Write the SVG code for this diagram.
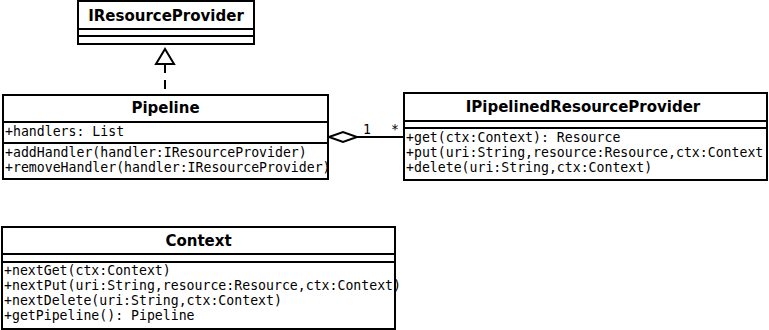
<svg xmlns="http://www.w3.org/2000/svg" width="769" height="330" viewBox="0 0 769 330">
  <style>
    .box { fill: #fff; stroke: #000; stroke-width: 2; }
    .div { stroke: #000; stroke-width: 2; }
    .title { font-family: "DejaVu Sans", sans-serif; font-weight: bold; font-size: 15px; text-anchor: middle; fill: #000; }
    .mem { font-family: "DejaVu Sans Mono", monospace; font-size: 13.2px; fill: #000; }
    .edge { fill: none; stroke: #000; stroke-width: 2; }
    .head { fill: #fff; stroke: #000; stroke-width: 2; }
    .lbl { font-family: "DejaVu Sans Mono", monospace; font-size: 13.2px; fill: #000; }
  </style>
  <rect width="769" height="330" fill="#fff"/>

  <g id="connectors">
    <!-- realization from Pipeline up to IResourceProvider -->
    <line class="edge" x1="165" y1="64" x2="165" y2="95" stroke-dasharray="9,7"/>
    <polygon class="head" points="165,49 156,64 174,64"/>
    <!-- aggregation from Pipeline to IPipelinedResourceProvider -->
    <line class="edge" x1="357" y1="137" x2="404" y2="137"/>
    <polygon class="head" points="329,137 343,132 357,137 343,142"/>
    <text class="lbl" x="363" y="134">1</text>
    <text class="lbl" x="391" y="134">*</text>
  </g>

  <g id="IResourceProvider">
    <rect class="box" x="78" y="1" width="176" height="43"/>
    <line class="div" x1="78" y1="29" x2="254" y2="29"/>
    <line class="div" x1="78" y1="36" x2="254" y2="36"/>
    <text class="title" x="166" y="21">IResourceProvider</text>
  </g>

  <g id="Pipeline">
    <rect class="box" x="3" y="95" width="325" height="84"/>
    <line class="div" x1="3" y1="122" x2="328" y2="122"/>
    <line class="div" x1="3" y1="143" x2="328" y2="143"/>
    <text class="title" x="165.5" y="113">Pipeline</text>
    <text class="mem" x="5" y="136">+handlers: List</text>
    <text class="mem" x="5" y="157">+addHandler(handler:IResourceProvider)</text>
    <text class="mem" x="5" y="172">+removeHandler(handler:IResourceProvider)</text>
  </g>

  <g id="IPipelinedResourceProvider">
    <rect class="box" x="404" y="93" width="363" height="87"/>
    <line class="div" x1="404" y1="121" x2="767" y2="121"/>
    <line class="div" x1="404" y1="128" x2="767" y2="128"/>
    <text class="title" x="583" y="112">IPipelinedResourceProvider</text>
    <text class="mem" x="406" y="142">+get(ctx:Context): Resource</text>
    <text class="mem" x="406" y="157">+put(uri:String,resource:Resource,ctx:Context</text>
    <text class="mem" x="406" y="172">+delete(uri:String,ctx:Context)</text>
  </g>

  <g id="Context">
    <rect class="box" x="2" y="227" width="393" height="102"/>
    <line class="div" x1="2" y1="254" x2="395" y2="254"/>
    <line class="div" x1="2" y1="262" x2="395" y2="262"/>
    <text class="title" x="198.5" y="246">Context</text>
    <text class="mem" x="4" y="275">+nextGet(ctx:Context)</text>
    <text class="mem" x="4" y="290">+nextPut(uri:String,resource:Resource,ctx:Context)</text>
    <text class="mem" x="4" y="305">+nextDelete(uri:String,ctx:Context)</text>
    <text class="mem" x="4" y="320">+getPipeline(): Pipeline</text>
  </g>
</svg>
